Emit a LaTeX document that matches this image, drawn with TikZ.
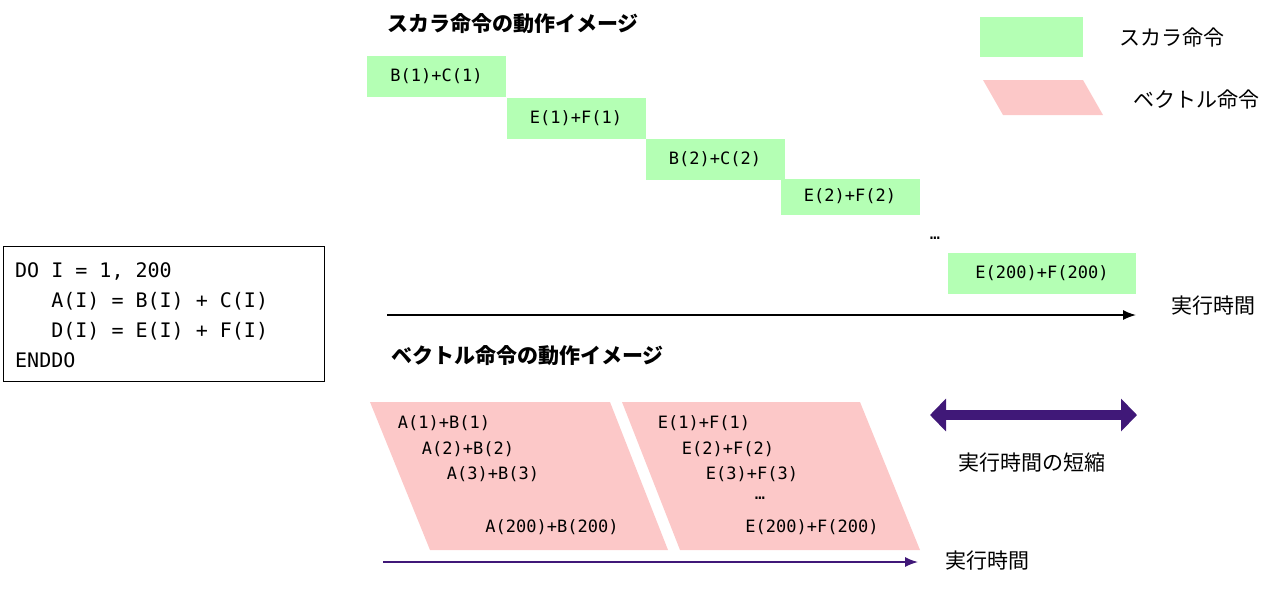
\documentclass[tikz,border=0pt]{standalone}
\usepackage{fontspec}
\setmonofont{DejaVu Sans Mono}
\newfontfamily\jp{Noto Sans CJK JP}
\usetikzlibrary{arrows,arrows.meta,shapes}
\definecolor{scalar}{RGB}{180,255,180}
\definecolor{vector}{RGB}{252,200,200}
\definecolor{shorten}{RGB}{64,24,120}
\tikzstyle{line} = [draw, -{Latex[length=13,width=10]}]
\tikzstyle{sbox} = [rectangle, fill=scalar, minimum width=139, minimum height=41, font=\fontsize{17}{20}\ttfamily, inner sep=0]
\tikzstyle{vtext} = [font=\fontsize{17}{20}\ttfamily, inner sep=0]
\tikzstyle{jlabel} = [font=\fontsize{21}{24}\jp, inner sep=0]
\tikzstyle{jtitle} = [font=\fontsize{21}{24}\jp\bfseries, inner sep=0]
\begin{document}
\begin{tikzpicture}[x=1pt, y=-1pt]
		\useasboundingbox (0,0) rectangle (1281,590);
		% code
		\node[draw, line width=1.2, minimum width=321, minimum height=135, anchor=north west, inner sep=0] (code) at (3,246) {};
		\node[anchor=west, font=\fontsize{20}{30}\ttfamily, align=left, inner sep=0] (src) at (15,315) {DO I = 1, 200\\\ \ \ A(I) = B(I) + C(I)\\\ \ \ D(I) = E(I) + F(I)\\ENDDO};
		
		% scalar
		\node[jtitle, anchor=west] (stitle) at (387,24) {スカラ命令の動作イメージ};
		\node[sbox] (s1) at (436.5,76.5) {B(1)+C(1)};
		\node[sbox] (s2) at (576,118) {E(1)+F(1)};
		\node[sbox] (s3) at (715,159) {B(2)+C(2)};
		\node[sbox, minimum height=36] (s4) at (850,196.5) {E(2)+F(2)};
		\node[inner sep=0, font=\fontsize{17}{20}\ttfamily] (sdots) at (935,238) {\dots};
		\node[sbox, minimum width=188] (s5) at (1042,273.5) {E(200)+F(200)};
		\coordinate (sstart) at (387,315);
		\coordinate (send) at (1136,315);
		\path [line, line width=1.5] (sstart) to (send);
		\node[jlabel] (stime) at (1213,306) {実行時間};
		
		% legend
		\fill[scalar] (980,17) rectangle (1083,57);
		\node[jlabel] (lscalar) at (1172,38) {スカラ命令};
		\fill[vector] (983,80) -- (1083,80) -- (1103,115) -- (1003,115) -- cycle;
		\node[jlabel] (lvector) at (1196,100) {ベクトル命令};
		
		% vector
		\node[jtitle, anchor=west] (vtitle) at (391,356) {ベクトル命令の動作イメージ};
		\fill[vector] (370,402) -- (610,402) -- (668,550) -- (430,550) -- cycle;
		\fill[vector] (622,402) -- (860,402) -- (920,550) -- (680,550) -- cycle;
		\node[vtext] (a1) at (444,423) {A(1)+B(1)};
		\node[vtext] (a2) at (468,449) {A(2)+B(2)};
		\node[vtext] (a3) at (493,474) {A(3)+B(3)};
		\node[vtext] (a200) at (552,527) {A(200)+B(200)};
		\node[vtext] (e1) at (704,423) {E(1)+F(1)};
		\node[vtext] (e2) at (728,449) {E(2)+F(2)};
		\node[vtext] (e3) at (752,474) {E(3)+F(3)};
		\node[vtext] (edots) at (760,498) {\dots};
		\node[vtext] (e200) at (812,527) {E(200)+F(200)};
		\coordinate (vstart) at (383,562);
		\coordinate (vend) at (918,562);
		\path [line, line width=1.5, shorten] (vstart) to (vend);
		\node[jlabel] (vtime) at (987,561) {実行時間};
		
		% shortening
		\coordinate (dl) at (930,415);
		\coordinate (dr) at (1137,415);
		\draw[shorten, line width=10, {Triangle[length=16,width=32]}-{Triangle[length=16,width=32]}] (dl) -- (dr);
		\node[jlabel] (gain) at (1032,463) {実行時間の短縮};
	\end{tikzpicture}
\end{document}
